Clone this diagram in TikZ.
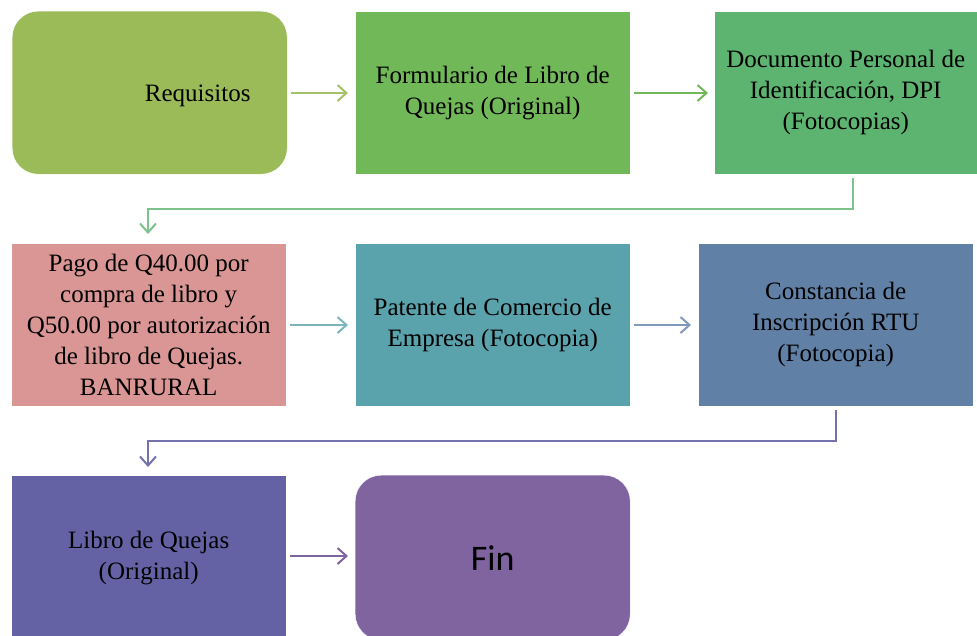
\documentclass[tikz,border=0pt]{standalone}
\usepackage{fontspec}
\setmainfont{Liberation Serif}
\newfontfamily\finfont{Carlito}
\usetikzlibrary{arrows.meta,positioning}
\definecolor{verdeoliva}{RGB}{155,187,89}
\definecolor{verdehoja}{RGB}{113,184,88}
\definecolor{verdemar}{RGB}{92,180,112}
\definecolor{rosaviejo}{RGB}{217,150,148}
\definecolor{turquesa}{RGB}{91,163,172}
\definecolor{azulacero}{RGB}{96,128,166}
\definecolor{indigo}{RGB}{100,98,165}
\definecolor{morado}{RGB}{128,100,160}
\tikzset{
  caja/.style={
    draw=white,
    anchor=north west,
    align=center,
    minimum width=275pt,
    minimum height=163pt,
    inner sep=4pt,
    font=\fontsize{25}{31}\selectfont
  },
  redonda/.style={
    caja,
    rounded corners=26pt
  },
  flecha/.style={
    -{Straight Barb[length=9pt,width=16pt,line width=2pt]},
    line width=2pt
  }
}
\begin{document}
\begin{tikzpicture}[x=1pt,y=-1pt]
\useasboundingbox (0,0) rectangle (977,635);
\node[redonda,fill=verdeoliva,label={[xshift=48pt,yshift=-3pt,font=\fontsize{25}{31}\selectfont]center:Requisitos}] (req) at (12,11) {};
\node[caja,fill=verdehoja] (form) at (355,11) {Formulario de Libro de\\Quejas (Original)};
\node[caja,fill=verdemar,minimum width=263pt] (dpi) at (714,11) {Documento Personal de\\Identificación, DPI\\(Fotocopias)};
\node[caja,fill=rosaviejo] (pago) at (11,243) {Pago de Q40.00 por\\compra de libro y\\Q50.00 por autorización\\de libro de Quejas.\\BANRURAL};
\node[caja,fill=turquesa] (pat) at (355,243) {Patente de Comercio de\\Empresa (Fotocopia)};
\node[caja,fill=azulacero] (rtu) at (698,243) {Constancia de\\Inscripción RTU\\(Fotocopia)};
\node[caja,fill=indigo,minimum height=165pt] (libro) at (11,475) {Libro de Quejas\\(Original)};
\node[redonda,fill=morado,minimum height=165pt,font=\finfont\fontsize{36}{40}\selectfont] (fin) at (355,475) {Fin};
% conectores
\coordinate (c1) at (853,209);
\coordinate (c2) at (836,441);
\draw[flecha,verdeoliva!90!white] ([xshift=4pt]req.east |- 0,93) -- ([xshift=-7pt]form.west |- 0,93);
\draw[flecha,verdehoja] ([xshift=4pt]form.east |- 0,93) -- ([xshift=-6pt]dpi.west |- 0,93);
\draw[flecha,verdemar!80!white,line width=1.5pt] ([yshift=-4pt]dpi.south -| c1) -- (c1) -- (c1 -| 148,0) -- ([yshift=9pt]pago.north -| 148,0);
\draw[flecha,turquesa!80!white] ([xshift=4pt]pago.east |- 0,325) -- ([xshift=-7pt]pat.west |- 0,325);
\draw[flecha,azulacero!80!white] ([xshift=4pt]pat.east |- 0,325) -- ([xshift=-7pt]rtu.west |- 0,325);
\draw[flecha,indigo!90!white,line width=1.5pt] ([yshift=-4pt]rtu.south -| c2) -- (c2) -- (c2 -| 148,0) -- ([yshift=8pt]libro.north -| 148,0);
\draw[flecha,morado] ([xshift=4pt]libro.east |- 0,556) -- ([xshift=-7pt]fin.west |- 0,556);
\end{tikzpicture}
\end{document}
